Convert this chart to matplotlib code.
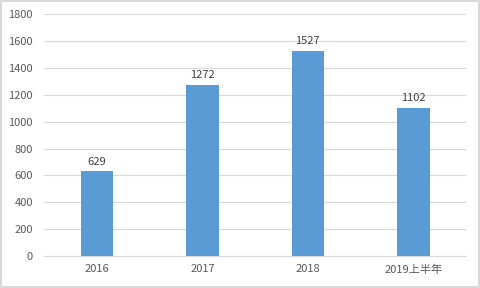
import matplotlib
matplotlib.use("Agg")
import matplotlib.pyplot as plt

plt.rcParams['font.family'] = ['Noto Sans CJK SC', 'DejaVu Sans']

# data
categories = ['2016', '2017', '2018', '2019上半年']
values = [629, 1272, 1527, 1102]
yticks = [0, 200, 400, 600, 800, 1000, 1200, 1400, 1600, 1800]

fig = plt.figure(figsize=(4.8, 2.88), dpi=100)
fig.patch.set_edgecolor('#d9d9d9')
fig.patch.set_linewidth(1.5)
ax = fig.add_axes([0.092, 0.111, 0.879, 0.840])

x = range(len(categories))
bars = ax.bar(x, values, width=0.31, color='#5b9bd5', zorder=3)
for b, v in zip(bars, values):
    ax.text(b.get_x() + b.get_width() / 2, v + 35, str(v), ha='center', va='bottom',
            fontsize=8, color='#404040')

ax.set_xlim(-0.5, len(categories) - 0.5)
ax.set_ylim(0, 1800)
ax.set_yticks(yticks)
ax.set_xticks(list(x))
ax.set_xticklabels(categories)
ax.grid(axis='y', color='#d9d9d9', linewidth=0.8, zorder=0)
for s in ['top', 'right', 'left']:
    ax.spines[s].set_visible(False)
ax.spines['bottom'].set_color('#d9d9d9')
ax.tick_params(axis='both', length=0, labelsize=8, colors='#595959', pad=6)
ax.tick_params(axis='y', pad=8)

fig.savefig('out.png', dpi=100, edgecolor=fig.get_edgecolor())
